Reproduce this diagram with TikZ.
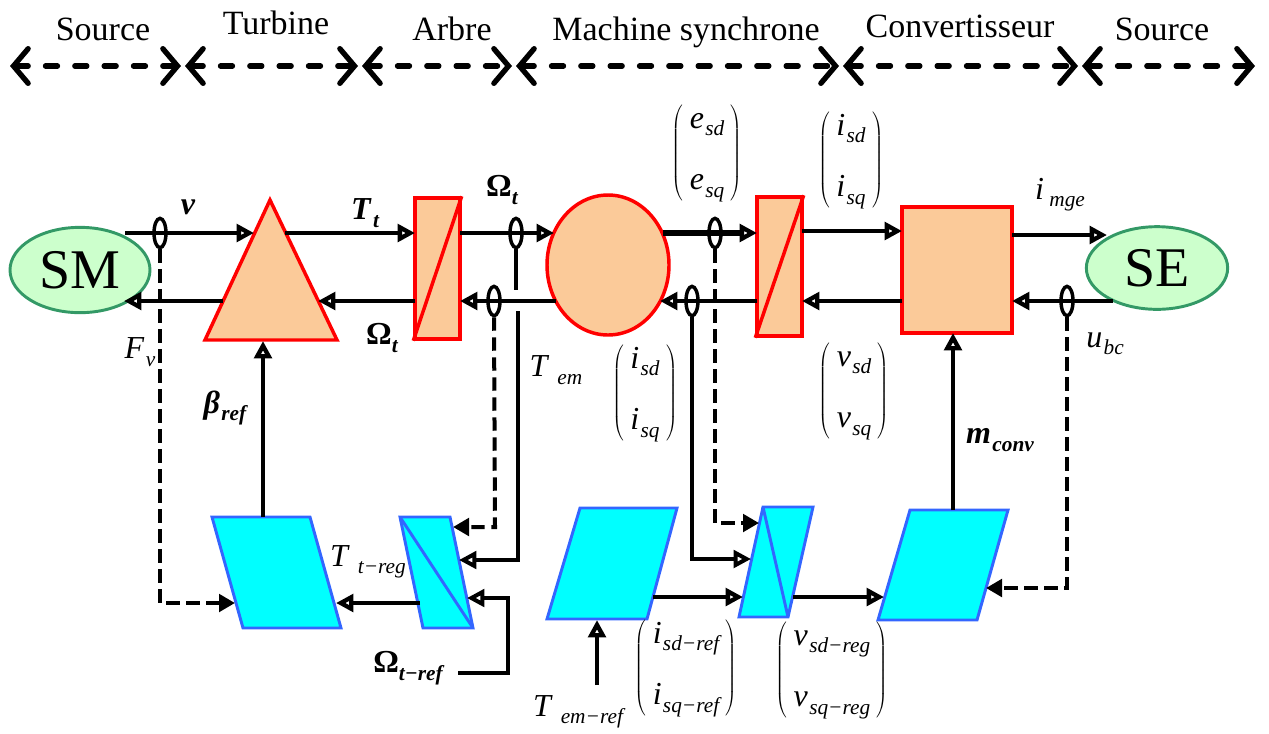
\documentclass[tikz,border=0pt]{standalone}
\usepackage{fontspec}
\setmainfont{Liberation Serif}
\usetikzlibrary{arrows.meta,shapes.geometric}
\definecolor{peach}{RGB}{251,202,153}
\definecolor{lgreen}{RGB}{204,255,204}
\definecolor{dgreen}{RGB}{51,153,102}
\definecolor{cyanf}{RGB}{0,255,255}
\definecolor{blueo}{RGB}{51,102,255}
\newcommand\mysub[1]{\raisebox{-5.5pt}{\fontsize{16pt}{16pt}\selectfont\itshape #1}}
\newcommand\lbl[2]{\textit{#1}\kern1pt\mysub{#2}}
\newcommand\vmat[2]{$\left(\vcenter{\hbox{\begin{tabular}{@{\hspace{5pt}}c@{\hspace{5pt}}}#1\\[20pt]#2\end{tabular}}}\right)$}
\tikzset{
  blk/.style={draw=red, fill=peach, line width=2.6pt},
  ctl/.style={draw=blueo, fill=cyanf, line width=2.2pt, line join=miter},
  pw/.style={line width=3.6pt, -{Triangle[open,length=13pt,width=13pt]}},
  pwthin/.style={line width=2.4pt, -{Triangle[open,length=13pt,width=13pt,line width=3pt]}},
  ms/.style={draw, line width=2.6pt, ellipse, minimum width=9pt, minimum height=22pt, inner sep=0pt},
  msd/.style={line width=3pt, dash pattern=on 10pt off 5pt, -{Triangle[length=12pt,width=13pt]}},
  msl/.style={line width=2.4pt},
  topar/.style={line width=4pt, dash pattern=on 9pt off 13pt, line cap=round,
    {Straight Barb[length=11pt,width=26pt,line cap=round]}-{Straight Barb[length=11pt,width=26pt,line cap=round]}},
  src/.style={ellipse, draw=dgreen, fill=lgreen, line width=2.2pt, inner sep=0pt, font=\fontsize{42}{42}\selectfont},
  lab/.style={font=\fontsize{24}{26}\selectfont, inner sep=0pt},
  head/.style={font=\fontsize{25.5}{27}\selectfont, anchor=base, inner sep=0pt},
}
\begin{document}
\begin{tikzpicture}[x=0.75pt,y=-0.75pt]
\useasboundingbox (0,0) rectangle (1269,733);

% ---------- header ----------
\node[head] (h1) at (103,40) {Source};
\node[head] (h2) at (276,34) {Turbine};
\node[head] (h3) at (452,40) {Arbre};
\node[head] (h4) at (686,40) {Machine synchrone};
\node[head] (h5) at (960,37) {Convertisseur};
\node[head] (h6) at (1162,40) {Source};
\coordinate (t0) at (10,66);
\coordinate (t1a) at (181,66); \coordinate (t1b) at (185,66);
\coordinate (t2a) at (358,66); \coordinate (t2b) at (362,66);
\coordinate (t3a) at (512,66); \coordinate (t3b) at (516,66);
\coordinate (t4a) at (839,66); \coordinate (t4b) at (843,66);
\coordinate (t5a) at (1078,66); \coordinate (t5b) at (1082,66);
\coordinate (t6) at (1255,66);
\draw[topar] (t0) -- (t1a);
\draw[topar] (t1b) -- (t2a);
\draw[topar] (t2b) -- (t3a);
\draw[topar] (t3b) -- (t4a);
\draw[topar] (t4b) -- (t5a);
\draw[topar] (t5b) -- (t6);

% ---------- energetic elements ----------
\node[src, minimum width=105pt, minimum height=64pt] (SM) at (80,270) {SM};
\node[src, minimum width=106pt, minimum height=62pt] (SE) at (1157,268) {SE};
\coordinate (triA) at (270,200);
\coordinate (triR) at (337,340);
\coordinate (triL) at (205,340);
\draw[blk, line join=miter] (triA) -- (triR) -- (triL) -- cycle;
\node[blk, minimum width=33.75pt, minimum height=105.75pt, inner sep=0pt] (R1) at (437.5,268.5) {};
\draw[red, line width=2.6pt] (R1.south west) -- (R1.north east);
\node[blk, ellipse, minimum width=91.5pt, minimum height=105pt, inner sep=0pt] (C) at (608,265) {};
\node[blk, minimum width=33.75pt, minimum height=104.25pt, inner sep=0pt] (R2) at (779.5,266.5) {};
\draw[red, line width=2.6pt] (R2.south west) -- (R2.north east);
\node[blk, minimum width=82.5pt, minimum height=94.5pt, inner sep=0pt] (SQ) at (957,270) {};

% ---------- control elements ----------
\draw[ctl] (212,517) coordinate (P1a) -- (310,517) -- (341,628) -- (243,628) -- cycle;
\draw[ctl] (400,517) coordinate (Q1a) -- (450,517) -- (473,628) coordinate (Q1c) -- (423,628) -- cycle;
\draw[blueo, line width=2.2pt] (Q1a) -- (Q1c);
\draw[ctl] (580,508) coordinate (P2a) -- (677,508) -- (647,619) -- (547,619) -- cycle;
\draw[ctl] (763,507) coordinate (Q2a) -- (813,507) -- (788,617) coordinate (Q2c) -- (739,617) -- cycle;
\draw[blueo, line width=2.2pt] (Q2a) -- (Q2c);
\draw[ctl] (910,510) coordinate (P3a) -- (1008,510) -- (977,620) -- (878,620) -- cycle;

% ---------- ports ----------
\coordinate (SMo) at (125,233);  \coordinate (SMi) at (124,301);
\coordinate (Tvi) at (254,233);  \coordinate (TTo) at (285,233);
\coordinate (TOi) at (318,301);  \coordinate (TFo) at (223,301);
\coordinate (R1lu) at (415,233); \coordinate (R1ll) at (415,301);
\coordinate (R1ru) at (460,233); \coordinate (R1rl) at (460,301);
\coordinate (Clu) at (554,233);  \coordinate (Cll) at (556,301);
\coordinate (Cru) at (663,233);  \coordinate (Crl) at (660,301);
\coordinate (R2lu) at (757,233); \coordinate (R2ll) at (757,301);
\coordinate (R2ru) at (802,231); \coordinate (R2rl) at (802,301);
\coordinate (SQlu) at (902,231); \coordinate (SQll) at (902,301);
\coordinate (SQru) at (1012,235); \coordinate (SQrl) at (1012,301);
\coordinate (SEi) at (1107,235); \coordinate (SEo) at (1113,301);

% ---------- power arrows ----------
\draw[pw] (SMo) -- (Tvi);
\draw[pw] (TFo) -- (SMi);
\draw[pw] (TTo) -- (R1lu);
\draw[pw] (R1ll) -- (TOi);
\draw[pw] (R1ru) -- (Clu);
\draw[pw] (Cll) -- (R1rl);
\draw[pw, line width=4.2pt] (Cru) -- (R2lu);
\draw[pw] (R2ll) -- (Crl);
\draw[pw] (R2ru) -- (SQlu);
\draw[pw] (SQll) -- (R2rl);
\draw[pw] (SQru) -- (SEi);
\draw[pw] (SEo) -- (SQrl);

% ---------- measurement ovals ----------
\node[ms] (o1) at (160,233) {};
\node[ms] (o2) at (516,233) {};
\node[ms] (o3) at (494,301) {};
\node[ms] (o4) at (715,233) {};
\node[ms] (o5) at (692,301) {};
\node[ms] (o6) at (1067,301) {};

% ---------- control links ----------
\coordinate (Bo) at (263,517); \coordinate (Bi) at (263,341);
\draw[pw] (Bo) -- (Bi);
\coordinate (Mo) at (953,510); \coordinate (Mi) at (953,333);
\draw[pw] (Mo) -- (Mi);
\coordinate (Q1o) at (420,603); \coordinate (P1i) at (336,603);
\draw[pw] (Q1o) -- (P1i);
\coordinate (Wr) at (458,673); \coordinate (Q1i3) at (467,598);
\draw[pwthin] (Wr) -- (508,673) -- (508,598) -- (Q1i3);
\coordinate (Q1i2) at (459,560);
\draw[msl] (o2.south) -- (516,290);
\draw[pwthin] (518,311) -- (518,560) -- (Q1i2);
\coordinate (Q1i1) at (453,527);
\draw[msd] (o3.south) -- (495,527) -- (Q1i1);
\coordinate (P1i2) at (235,603);
\draw[msd] (o1.south) -- (160,603) -- (P1i2);
\coordinate (P2o) at (653,597); \coordinate (Q2i3) at (743,597);
\draw[pw] (P2o) -- (Q2i3);
\coordinate (Tr) at (597,685); \coordinate (P2i) at (597,620);
\draw[pw] (Tr) -- (P2i);
\coordinate (Q2i2) at (751,559);
\draw[pwthin] (o5.south) -- (692,559) -- (Q2i2);
\coordinate (Q2i1) at (759,523);
\draw[msd] (o4.south) -- (715,523) -- (Q2i1);
\coordinate (Q2o) at (793,597); \coordinate (P3i) at (884,597);
\draw[pw] (Q2o) -- (P3i);
\coordinate (P3i2) at (986,588);
\draw[msd] (o6.south) -- (1067,588) -- (P3i2);

% ---------- labels ----------
\node[lab] (lv) at (188,207) {\textbf{\textit{v}}};
\node[lab] (lTt) at (365,213) {\textbf{\lbl{T}{t}}};
\node[lab] (lOt1) at (502,190) {\textbf{Ω\mysub{t}}};
\node[lab] (lOt2) at (382,338) {\textbf{Ω\mysub{t}}};
\node[lab] (lFv) at (140,352) {\lbl{F}{v}};
\node[lab] (lb) at (225,408) {\textbf{\lbl{β}{ref}}};
\node[lab] (lTem) at (556,370) {\lbl{T}{\kern5pt em}};
\node[lab] (lTreg) at (368,562) {\lbl{T}{\kern5pt t−reg}};
\node[lab] (lOref) at (408,668) {\textbf{Ω\mysub{t−ref}}};
\node[lab] (lTref) at (578,712) {\lbl{T}{\kern5pt em−ref}};
\node[lab] (limge) at (1060,195) {\lbl{i}{\kern3pt mge}};
\node[lab] (lubc) at (1105,344) {\lbl{u}{bc}};
\node[lab] (lmc) at (1000,440) {\textbf{\lbl{m}{conv}}};

\node[lab] (me) at (707,153) {\vmat{\lbl{e}{sd}}{\lbl{e}{sq}}};
\node[lab] (mi1) at (851,160) {\vmat{\lbl{i}{sd}}{\lbl{i}{sq}}};
\node[lab] (mi2) at (645,393) {\vmat{\lbl{i}{sd}}{\lbl{i}{sq}}};
\node[lab] (mv) at (854,391) {\vmat{\lbl{v}{sd}}{\lbl{v}{sq}}};
\node[lab] (mir) at (686,668) {\vmat{\lbl{i}{sd−ref}}{\lbl{i}{sq−ref}}};
\node[lab] (mvr) at (832,670) {\vmat{\lbl{v}{sd−reg}}{\lbl{v}{sq−reg}}};
\end{tikzpicture}
\end{document}
